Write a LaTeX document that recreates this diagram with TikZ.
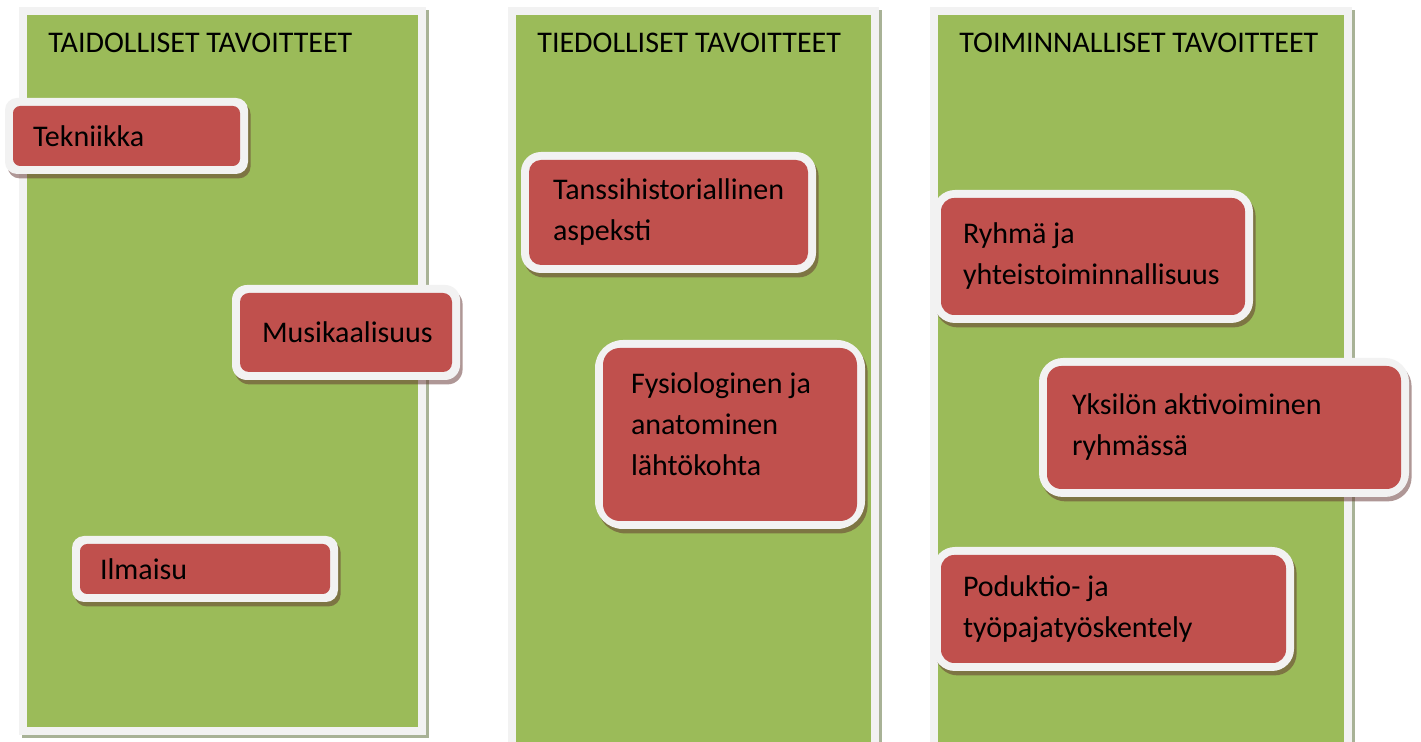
\documentclass[tikz,border=0pt]{standalone}
\usepackage{fontspec}
\setmainfont{Carlito}
\usetikzlibrary{shadows}
\definecolor{colgreen}{RGB}{155,187,89}
\definecolor{goalred}{RGB}{192,80,77}
\definecolor{rimwhite}{RGB}{242,242,242}
\definecolor{colshade}{RGB}{168,178,150}
\definecolor{goalshade}{RGB}{96,48,46}
\hyphenpenalty=10000
\tikzset{
  goalfont/.style={font=\fontsize{15}{20.5}\selectfont},
  column/.style={rectangle, fill=rimwhite, inner sep=0pt,
    path picture={\fill[colgreen] ([shift={(4pt,4pt)}]path picture bounding box.south west)
      rectangle ([shift={(-4pt,-4pt)}]path picture bounding box.north east);},
    drop shadow={shadow xshift=1.5pt, shadow yshift=-1.5pt, fill=colshade, opacity=1}},
  heading/.style={goalfont, anchor=base west, inner sep=0pt},
  goal/.style={rectangle, rounded corners=#1, fill=rimwhite, inner sep=0pt, goalfont, align=flush left,
    path picture={\fill[goalred, rounded corners=0.6*#1] ([shift={(4pt,4pt)}]path picture bounding box.south west)
      rectangle ([shift={(-4pt,-4pt)}]path picture bounding box.north east);},
    drop shadow={shadow xshift=1.3pt, shadow yshift=-2.2pt, fill=goalshade, opacity=.5}}
}
\begin{document}
\begin{tikzpicture}[x=0.5pt, y=-0.5pt]
\path[use as bounding box, fill=white] (0,0) rectangle (1421,742);
% columns
\node[column, minimum width=203.5pt, minimum height=364pt] (taito) at (222.5,371) {};
\node[column, minimum width=185.5pt, minimum height=371.5pt] (tieto) at (693.5,378.5) {};
\node[column, minimum width=211pt, minimum height=371.5pt] (toiminta) at (1141,378.5) {};
\node[heading] (taito-h) at (48,53) {TAIDOLLISET TAVOITTEET};
\node[heading] (tieto-h) at (537,53) {TIEDOLLISET TAVOITTEET};
\node[heading] (toiminta-h) at (959,53) {TOIMINNALLISET TAVOITTEET};
% goals
\node[goal=6pt, minimum width=121.5pt, minimum height=38pt, text width=93.5pt] (tekniikka) at (126.5,136) {Tekniikka};
\node[goal=7.5pt, minimum width=114pt, minimum height=47.5pt, text width=84pt] (musiikki) at (346,332.5) {Musikaalisuus};
\node[goal=6pt, minimum width=133pt, minimum height=33pt, text width=105pt] (ilmaisu) at (205,569) {Ilmaisu};
\node[goal=10pt, minimum width=147.5pt, minimum height=60.5pt, text width=115.5pt] (historia) at (668.5,212.5) {Tanssihistoriallinen\\aspeksti};
\node[goal=14pt, minimum width=135pt, minimum height=94.5pt, text width=99pt, text depth=51pt] (fysio) at (730,434.5) {Fysiologinen ja\\anatominen\\lähtökohta};
\node[goal=11pt, minimum width=160pt, minimum height=66.5pt, text width=130pt] (ryhma) at (1093,256.5) {Ryhmä ja\\yhteistoiminnallisuus};
\node[goal=12pt, minimum width=185pt, minimum height=69.5pt, text width=152pt] (yksilo) at (1224,427.5) {Yksilön aktivoiminen\\ryhmässä};
\node[goal=11pt, minimum width=180.5pt, minimum height=62pt, text width=150.5pt] (tuotanto) at (1113.5,609) {Poduktio- ja\\työpajatyöskentely};
\end{tikzpicture}
\end{document}
